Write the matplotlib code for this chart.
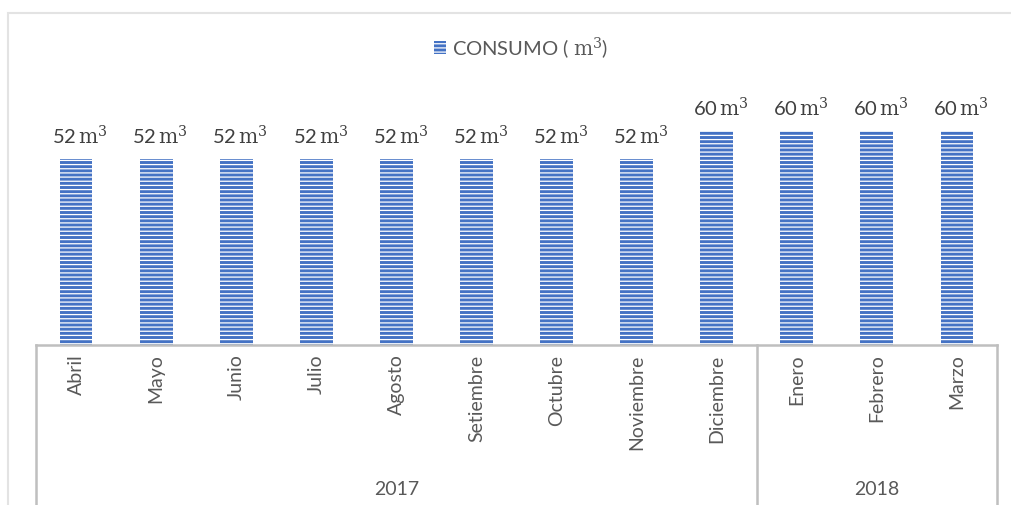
import matplotlib
matplotlib.use("Agg")
import matplotlib.pyplot as plt
from matplotlib.patches import Rectangle

meses = ["Abril", "Mayo", "Junio", "Julio", "Agosto", "Setiembre", "Octubre",
         "Noviembre", "Diciembre", "Enero", "Febrero", "Marzo"]
consumo = [52, 52, 52, 52, 52, 52, 52, 52, 60, 60, 60, 60]
anios = ["2017", "2018"]
meses_por_anio = [9, 3]

plt.rcParams['font.family'] = ['Lato', 'DejaVu Sans']
plt.rcParams['mathtext.fontset'] = 'dejavuserif'
plt.rcParams['hatch.color'] = 'white'
plt.rcParams['hatch.linewidth'] = 0.9

AZUL = '#4472C4'
GRIS_TXT = '#595959'
GRIS_EJE = '#BFBFBF'

fig = plt.figure(figsize=(10.12, 5.06), dpi=100)
ax = fig.add_axes([36 / 1012, 1 - 346 / 506, 961 / 1012, 286 / 506])

x = range(len(meses))
barras = ax.bar(x, consumo, width=0.41, color=AZUL, hatch='----',
                linewidth=0, label='CONSUMO ( $\\mathrm{m}^3$)')

for i, v in enumerate(consumo):
    ax.annotate(f"{v}$\\,\\mathrm{{m}}^3$", (i, v), xytext=(3, 9),
                textcoords='offset points', ha='center', va='bottom',
                fontsize=14.5, color='#404040')

ax.set_xlim(-0.5, len(meses) - 0.5)
ax.set_ylim(0, 80)
ax.axis('off')

# eje de categorias con dos niveles (mes / anio)
tr = ax.get_xaxis_transform()
ax.plot([-0.5, len(meses) - 0.5], [0, 0], color=GRIS_EJE, lw=1.8,
        transform=tr, clip_on=False)
inicio = -0.5
for anio, n in zip(anios, meses_por_anio):
    ax.plot([inicio, inicio], [0, -0.7], color=GRIS_EJE, lw=1.8,
            transform=tr, clip_on=False)
    ax.text(inicio + n / 2, -0.503, anio, transform=tr, ha='center',
            va='center', fontsize=14, color=GRIS_TXT)
    inicio += n
ax.plot([inicio, inicio], [0, -0.7], color=GRIS_EJE, lw=1.8,
        transform=tr, clip_on=False)

for i, mes in enumerate(meses):
    ax.text(i, -0.03, mes, transform=tr, rotation=90, ha='center',
            va='top', fontsize=14, color=GRIS_TXT)

ax.legend(handles=[barras], loc='center', bbox_to_anchor=(0.515, 1 - 48 / 506),
          bbox_transform=fig.transFigure, frameon=False, fontsize=14.5,
          labelcolor=GRIS_TXT, handlelength=0.6, handleheight=0.6,
          handletextpad=0.3)

fig.add_artist(Rectangle((8 / 1012, -0.2), 1.2, 1.2 - 14 / 506,
                         transform=fig.transFigure, fill=False,
                         edgecolor='#E3E3E3', lw=1.5))

fig.savefig("out.png", dpi=100, facecolor='white')
